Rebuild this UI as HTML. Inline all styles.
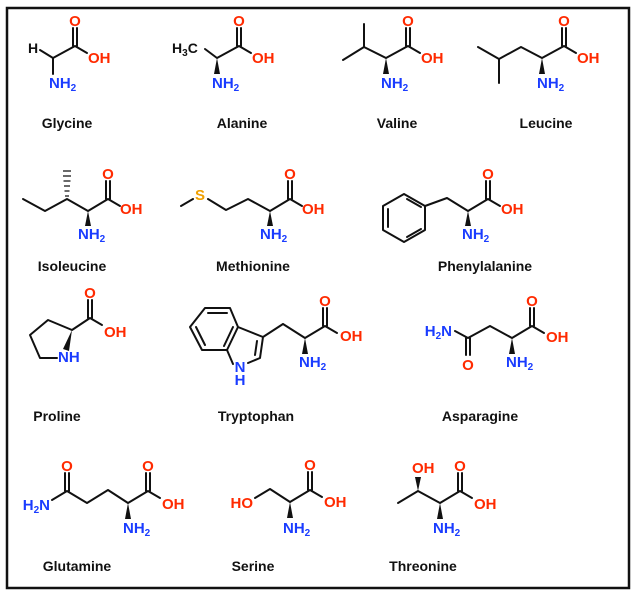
<!DOCTYPE html>
<html><head><meta charset="utf-8"><style>
html,body{margin:0;padding:0;background:#fff}
svg{display:block}
text{font-family:"Liberation Sans",Arial,sans-serif;font-weight:bold}
.b{stroke:#111;stroke-width:2;fill:none;stroke-linecap:round;stroke-linejoin:round}
.o{fill:#ff2a00;font-size:15px}
.n{fill:#1a3cff;font-size:15px}
.k{fill:#111;font-size:14px}
.l{fill:#111;font-size:14px;text-anchor:middle}
.s{font-size:10px}
</style></head><body>
<svg width="635" height="594" viewBox="0 0 635 594" xmlns="http://www.w3.org/2000/svg">
<rect x="7" y="8" width="622" height="580" fill="#fff" stroke="#111" stroke-width="2.5"/>

<!-- Glycine a=(53,58) -->
<path class="b" d="M40 50 L53 58 L75 46 L87 53 M53 58 L53 74 M73 46 L73 28 M77 46 L77 28"/>
<text class="k" x="28" y="53">H</text>
<text class="o" x="75" y="26" text-anchor="middle">O</text>
<text class="o" x="88" y="63">OH</text>
<text class="n" x="49" y="88">NH<tspan class="s" dy="3">2</tspan></text>
<text class="l" x="67" y="128">Glycine</text>

<!-- Alanine a=(217,58) -->
<path class="b" d="M205 49 L217 58 L239 46 L251 53 M237 46 L237 28 M241 46 L241 28"/>
<polygon points="217,58 214,74 220,74" fill="#111"/>
<text class="k" x="172" y="53">H<tspan class="s" dy="3">3</tspan><tspan dy="-3">C</tspan></text>
<text class="o" x="239" y="26" text-anchor="middle">O</text>
<text class="o" x="252" y="63">OH</text>
<text class="n" x="212" y="88">NH<tspan class="s" dy="3">2</tspan></text>
<text class="l" x="242" y="128">Alanine</text>

<!-- Valine a=(386,58) -->
<path class="b" d="M343 60 L364 47 L386 58 L408 46 L420 53 M364 47 L364 24 M406 46 L406 28 M410 46 L410 28"/>
<polygon points="386,58 383,74 389,74" fill="#111"/>
<text class="o" x="408" y="26" text-anchor="middle">O</text>
<text class="o" x="421" y="63">OH</text>
<text class="n" x="381" y="88">NH<tspan class="s" dy="3">2</tspan></text>
<text class="l" x="397" y="128">Valine</text>

<!-- Leucine a=(542,58) -->
<path class="b" d="M478 47 L499 59 L521 47 L542 58 L564 46 L576 53 M499 59 L499 83 M562 46 L562 28 M566 46 L566 28"/>
<polygon points="542,58 539,74 545,74" fill="#111"/>
<text class="o" x="564" y="26" text-anchor="middle">O</text>
<text class="o" x="577" y="63">OH</text>
<text class="n" x="537" y="88">NH<tspan class="s" dy="3">2</tspan></text>
<text class="l" x="546" y="128">Leucine</text>

<!-- Isoleucine a=(88,211) -->
<path class="b" d="M23 199 L45 211 L67 199 L88 211 L108 199 L120 206 M106 199 L106 181 M110 199 L110 181"/>
<path stroke="#111" stroke-width="1.3" d="M65 196h4M64.5 191h5M64 186h6M63.5 181h7M63 176h8M63 171h8"/>
<polygon points="88,211 85,226 91,226" fill="#111"/>
<text class="o" x="108" y="179" text-anchor="middle">O</text>
<text class="o" x="120" y="214">OH</text>
<text class="n" x="78" y="239">NH<tspan class="s" dy="3">2</tspan></text>
<text class="l" x="72" y="271">Isoleucine</text>

<!-- Methionine a=(270,211) -->
<path class="b" d="M181 206 L193 199 M208 199 L226 210 L248 199 L270 211 L290 199 L302 206 M288 199 L288 181 M292 199 L292 181"/>
<polygon points="270,211 267,226 273,226" fill="#111"/>
<text x="200" y="200" text-anchor="middle" style="fill:#f0a000;font-size:15px">S</text>
<text class="o" x="290" y="179" text-anchor="middle">O</text>
<text class="o" x="302" y="214">OH</text>
<text class="n" x="260" y="239">NH<tspan class="s" dy="3">2</tspan></text>
<text class="l" x="253" y="271">Methionine</text>

<!-- Phenylalanine a=(468,211) -->
<path class="b" d="M425 206 L404 194 L383 206 L383 230 L404 242 L425 230 Z M425 206 L447 198 L468 211 L488 199 L500 206 M486 199 L486 181 M490 199 L490 181 M388 209 L388 227 M407 237 L421 229 M407 199 L421 207"/>
<polygon points="468,211 465,226 471,226" fill="#111"/>
<text class="o" x="488" y="179" text-anchor="middle">O</text>
<text class="o" x="501" y="214">OH</text>
<text class="n" x="462" y="239">NH<tspan class="s" dy="3">2</tspan></text>
<text class="l" x="485" y="271">Phenylalanine</text>

<!-- Proline a=(72,330) -->
<path class="b" d="M72 330 L48 320 L30 335 L40 358 L57 358 M72 330 L90 318 L102 325 M88 318 L88 300 M92 318 L92 300"/>
<polygon points="72,330 63,349 69,351" fill="#111"/>
<text class="o" x="90" y="298" text-anchor="middle">O</text>
<text class="o" x="104" y="337">OH</text>
<text class="n" x="58" y="362">NH</text>
<text class="l" x="57" y="421">Proline</text>

<!-- Tryptophan a=(305,338) -->
<path class="b" d="M205 308 L230 308 L238 327 L227 350 L202 350 L190 327 Z M238 327 L263 337 L260 358 L248 363 M233 364 L227 350 M283 324 L263 337 M283 324 L305 338 L325 326 L337 333 M323 326 L323 308 M327 326 L327 308 M208 313 L227 313 M196 327 L205 345 M233 327 L224 346 M257 341 L255 355"/>
<polygon points="305,338 302,354 308,354" fill="#111"/>
<text class="n" x="240" y="372" text-anchor="middle">N</text>
<text class="n" x="240" y="385" text-anchor="middle">H</text>
<text class="o" x="325" y="306" text-anchor="middle">O</text>
<text class="o" x="340" y="341">OH</text>
<text class="n" x="299" y="367">NH<tspan class="s" dy="3">2</tspan></text>
<text class="l" x="256" y="421">Tryptophan</text>

<!-- Asparagine a=(512,338) -->
<path class="b" d="M455 331 L468 338 L490 326 L512 338 L532 326 L544 333 M530 326 L530 308 M534 326 L534 308 M466 338 L466 355 M470 338 L470 355"/>
<polygon points="512,338 509,354 515,354" fill="#111"/>
<text class="n" x="452" y="336" text-anchor="end">H<tspan class="s" dy="3">2</tspan><tspan dy="-3">N</tspan></text>
<text class="o" x="468" y="370" text-anchor="middle">O</text>
<text class="o" x="532" y="306" text-anchor="middle">O</text>
<text class="o" x="546" y="342">OH</text>
<text class="n" x="506" y="367">NH<tspan class="s" dy="3">2</tspan></text>
<text class="l" x="480" y="421">Asparagine</text>

<!-- Glutamine a=(128,503) -->
<path class="b" d="M52 500 L67 491 L87 503 L108 490 L128 503 L148 491 L160 498 M65 491 L65 473 M69 491 L69 473 M146 491 L146 473 M150 491 L150 473"/>
<polygon points="128,503 125,519 131,519" fill="#111"/>
<text class="n" x="50" y="510" text-anchor="end">H<tspan class="s" dy="3">2</tspan><tspan dy="-3">N</tspan></text>
<text class="o" x="67" y="471" text-anchor="middle">O</text>
<text class="o" x="148" y="471" text-anchor="middle">O</text>
<text class="o" x="162" y="509">OH</text>
<text class="n" x="123" y="533">NH<tspan class="s" dy="3">2</tspan></text>
<text class="l" x="77" y="571">Glutamine</text>

<!-- Serine a=(290,502) -->
<path class="b" d="M255 498 L270 489 L290 502 L310 490 L322 497 M308 490 L308 472 M312 490 L312 472"/>
<polygon points="290,502 287,518 293,518" fill="#111"/>
<text class="o" x="253" y="508" text-anchor="end">HO</text>
<text class="o" x="310" y="470" text-anchor="middle">O</text>
<text class="o" x="324" y="507">OH</text>
<text class="n" x="283" y="533">NH<tspan class="s" dy="3">2</tspan></text>
<text class="l" x="253" y="571">Serine</text>

<!-- Threonine a=(440,503) -->
<path class="b" d="M398 503 L418 491 L440 503 L460 491 L472 498 M458 491 L458 473 M462 491 L462 473"/>
<polygon points="418,491 415,477 421,477" fill="#111"/>
<polygon points="440,503 437,519 443,519" fill="#111"/>
<text class="o" x="412" y="473">OH</text>
<text class="o" x="460" y="471" text-anchor="middle">O</text>
<text class="o" x="474" y="509">OH</text>
<text class="n" x="433" y="533">NH<tspan class="s" dy="3">2</tspan></text>
<text class="l" x="423" y="571">Threonine</text>
</svg>
</body></html>
